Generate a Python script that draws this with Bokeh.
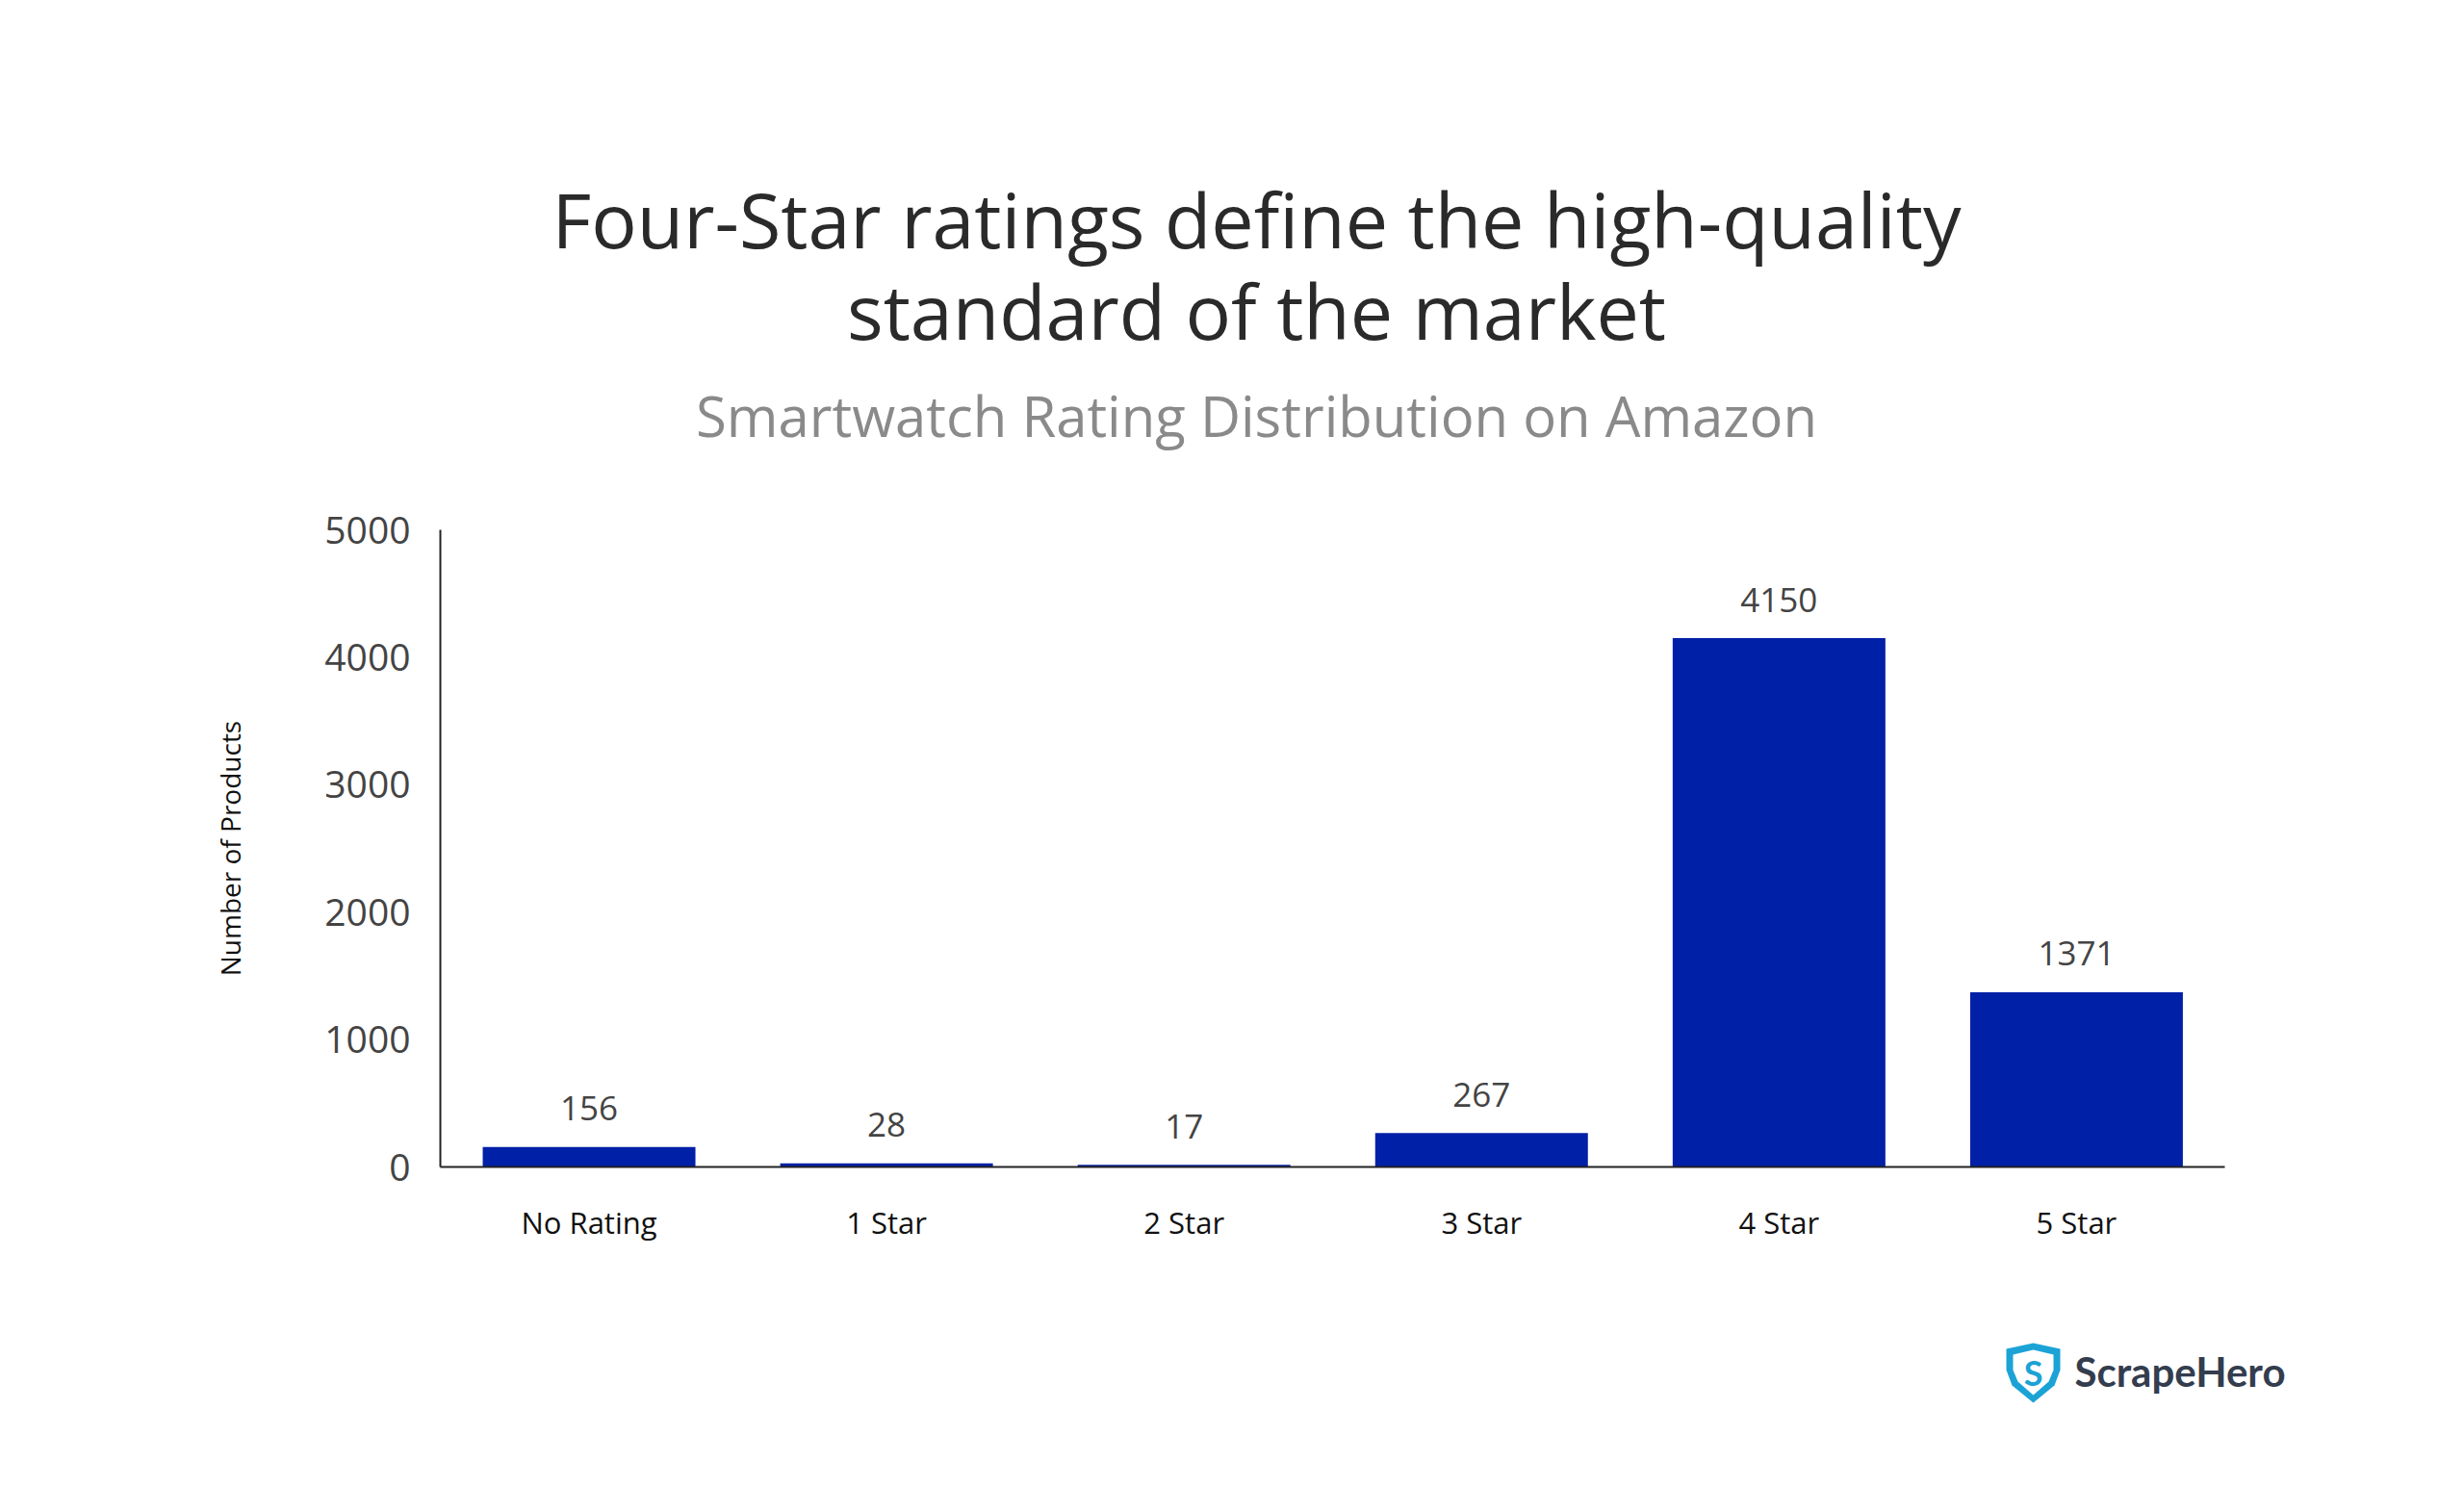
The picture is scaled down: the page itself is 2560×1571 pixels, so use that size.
from bokeh.plotting import figure
from bokeh.layouts import column
from bokeh.models import ColumnDataSource, Range1d, FixedTicker, LabelSet
from bokeh.core.properties import value
from bokeh.embed import file_html
from bokeh.resources import INLINE

# ---- data ----
categories = ["No Rating", "1 Star", "2 Star", "3 Star", "4 Star", "5 Star"]
counts = [156, 28, 17, 267, 4150, 1371]
y_ticks = [0, 1000, 2000, 3000, 4000, 5000]
title_lines = ["Four-Star ratings define the high-quality", "standard of the market"]
subtitle = "Smartwatch Rating Distribution on Amazon"
y_label = "Number of Products"
brand = "ScrapeHero"

FONT = "Open Sans"
BAR = "#0020A8"
WID = 2550
LEFT = 457                      # page x of the y axis
SLOT = (2311 - LEFT) / 6        # pixel width of one category slot
XEND = 6.5                      # numeric x range end (frame extends past last category)
RIGHT = LEFT + SLOT * XEND      # page x of frame right edge
RB = int(round(WID - RIGHT))


def blank(height):
    f = figure(width=WID, height=height, x_range=Range1d(LEFT, WID - RB),
               y_range=Range1d(height, 0), output_backend="svg",
               toolbar_location=None, min_border_left=LEFT, min_border_right=RB,
               min_border_top=0, min_border_bottom=0,
               x_axis_type=None, y_axis_type=None)
    f.outline_line_color = None
    f.background_fill_color = "white"
    f.border_fill_color = "white"
    for g in f.grid:
        g.visible = False
    return f


# ---------------- header (titles) ----------------
HH = 510
header = blank(HH)
header.text(x=[1305, 1305], y=[227, 322], text=title_lines,
            text_align="center", text_baseline="alphabetic",
            text_font=value(FONT), text_font_size="79px", text_color="#2a2a2a")
header.text(x=[1305], y=[431], text=[subtitle],
            text_align="center", text_baseline="alphabetic",
            text_font=value(FONT), text_font_size="58px", text_color="#8a8a8a")

# ---------------- chart ----------------
CH = 802
TOP = 40
FRAME_H = 662
p = figure(width=WID, height=CH, output_backend="svg", toolbar_location=None,
           x_range=Range1d(0, XEND), y_range=Range1d(0, 5000),
           min_border_left=LEFT, min_border_top=TOP,
           min_border_right=RB, min_border_bottom=CH - TOP - FRAME_H,
           background_fill_color="white", border_fill_color="white")
p.outline_line_color = None
p.grid.grid_line_color = None

xpos = [i + 0.5 for i in range(len(categories))]
src = ColumnDataSource(dict(x=xpos, cat=categories, cnt=counts,
                            txt=[str(c) for c in counts]))
p.vbar(x="x", top="cnt", width=0.715, source=src,
       fill_color=BAR, line_color=None)

p.add_layout(LabelSet(x="x", y="cnt", text="txt", source=src,
                      y_offset=40, text_align="center", text_baseline="middle",
                      text_font=value(FONT), text_font_size="35px",
                      text_color="#444444"))

ya = p.yaxis[0]
ya.ticker = FixedTicker(ticks=y_ticks)
ya.major_tick_line_color = None
ya.minor_tick_line_color = None
ya.axis_line_color = "#222222"
ya.axis_line_width = 2
ya.major_label_text_font = FONT
ya.major_label_text_font_size = "39px"
ya.major_label_text_color = "#444444"
ya.major_label_standoff = 25
ya.axis_label = y_label
ya.axis_label_text_font = FONT
ya.axis_label_text_font_style = "normal"
ya.axis_label_text_font_size = "28px"
ya.axis_label_text_color = "#111111"
ya.axis_label_standoff = 76

xa = p.xaxis[0]
xa.ticker = FixedTicker(ticks=xpos)
xa.major_label_overrides = {x: c for x, c in zip(xpos, categories)}
xa.bounds = (0, len(categories))
xa.major_tick_line_color = None
xa.minor_tick_line_color = None
xa.axis_line_color = "#222222"
xa.axis_line_width = 2
xa.major_label_text_font = FONT
xa.major_label_text_font_size = "31px"
xa.major_label_text_color = "#111111"
xa.major_label_standoff = 30

# ---------------- footer (logo) ----------------
FH = 200
Y0 = HH + CH  # page y of footer top
footer = blank(FH)
sx, sy = 2082, 1395 - Y0
outer = [(2, 6), (30, 0), (58, 6), (58, 28), (52, 44), (30, 62), (8, 44), (2, 28)]
inner = [(9, 12), (30, 7), (51, 12), (51, 28), (46, 40), (30, 54), (14, 40), (9, 28)]
footer.patch([sx + a for a, b in outer], [sy + b for a, b in outer],
             fill_color="#1BA3D6", line_color=None)
footer.patch([sx + a for a, b in inner], [sy + b for a, b in inner],
             fill_color="white", line_color=None)
footer.text(x=[sx + 30], y=[sy + 30], text=["S"], text_align="center",
            text_baseline="middle", text_font=value("Lato"), text_font_style="bold",
            text_font_size="36px", text_color="#1BA3D6")
footer.text(x=[2155], y=[1424 - Y0], text=[brand], text_align="left",
            text_baseline="middle", text_font=value("Lato"), text_font_style="bold",
            text_font_size="42px", text_color="#343d4e")

layout = column(header, p, footer, spacing=0)
open("out.html", "w").write(file_html(layout, INLINE))
